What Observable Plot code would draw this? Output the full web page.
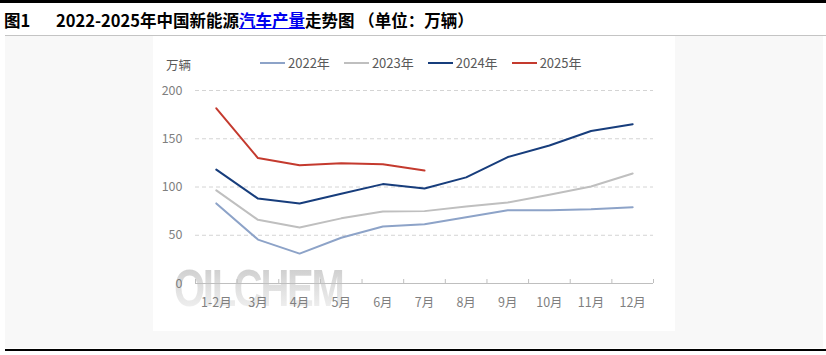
<!DOCTYPE html>
<html>
<head>
<meta charset="utf-8">
<script src="https://cdn.jsdelivr.net/npm/d3@7"></script>
<script src="https://cdn.jsdelivr.net/npm/@observablehq/plot@0.6"></script>
<style>
  html, body { margin: 0; padding: 0; background: #ffffff; }
  body { width: 826px; height: 355px; position: relative; overflow: hidden; font-family: "Noto Sans CJK SC", "Noto Sans", sans-serif; }
  .topbar { position: absolute; left: 0; top: 0; width: 826px; height: 3px; background: #000; }
  .title { position: absolute; top: 8px; font-size: 16.5px; font-weight: bold; color: #000; line-height: 24px; white-space: nowrap; }
  .title a { color: #0000ee; text-decoration: underline; }
  .sep { position: absolute; left: 5px; top: 35px; width: 821px; height: 1px; background: #c4c4c4; }
  .bg { position: absolute; left: 5px; top: 36px; width: 818px; height: 312px; background: #f8f8f8; }
  .bottombar { position: absolute; left: 5px; top: 349px; width: 821px; height: 2px; background: #000; }
  .panel { position: absolute; left: 153px; top: 36px; width: 522px; height: 295px; background: #fff; }
  .wm { position: absolute; left: 21px; top: 226px; font-family: "Liberation Sans", Arial, sans-serif; font-weight: bold; font-size: 52px; line-height: 52px; letter-spacing: -3px;
        transform: scaleX(0.77); transform-origin: 0 0;
        background: linear-gradient(180deg, #c9c9c9 0%, #dedede 45%, #f3f3f3 100%); -webkit-background-clip: text; background-clip: text; color: transparent; }
  #chart { position: absolute; left: 0; top: 0; }
  .unit { position: absolute; left: 13px; top: 20px; font-size: 12.5px; color: #595959; line-height: 18px; }
  .legend { position: absolute; left: 107px; top: 18px; display: flex; gap: 14px; font-size: 13px; color: #595959; line-height: 18px; }
  .legend .item { display: flex; align-items: center; }
  .legend .sw { width: 25px; height: 2px; margin-right: 3px; }
</style>
</head>
<body>
<div class="topbar"></div>
<div class="title" style="left:4px">图1</div>
<div class="title" style="left:56px">2022-2025年中国新能源<a>汽车产量</a>走势图 （单位：万辆）</div>
<div class="sep"></div>
<div class="bg"></div>
<div class="panel">
  <div class="wm">OILCHEM</div>
  <div id="chart"></div>
  <div class="unit">万辆</div>
  <div class="legend" id="legend"></div>
</div>
<div class="bottombar"></div>
<script>
const months = ["1-2月","3月","4月","5月","6月","7月","8月","9月","10月","11月","12月"];
const series = ["2022年","2023年","2024年","2025年"];
const colors = ["#8da3c8","#bfbfbf","#173d7c","#c43a2e"];
const v2022 = [83, 45.5, 31, 47.4, 59, 61.5, 68.7, 76, 76, 77, 79];
const v2023 = [96.5, 66, 58, 67.5, 74.5, 75, 79.8, 84, 92, 100.5, 114];
const v2024 = [118, 88, 83, 93, 103, 98.5, 110, 131, 143, 158, 165];
const v2025 = [181.5, 130, 122.5, 124.5, 123.5, 117];
const yTicks = [0, 50, 100, 150, 200];

const values = [v2022, v2023, v2024, v2025];
const data = [];
values.forEach((arr, s) => arr.forEach((v, i) => data.push({series: series[s], i, month: months[i], value: v})));
const idx = months.map((m, i) => i);
const bounds = d3.range(months.length + 1).map(i => i - 0.5);

const chart = Plot.plot({
  width: 522,
  height: 295,
  marginLeft: 42,
  marginRight: 22,
  marginTop: 54,
  marginBottom: 48,
  style: {background: "transparent", color: "#7f7f7f", fontSize: "12.5px", fontFamily: "'Noto Sans CJK SC', 'Noto Sans', sans-serif"},
  x: {type: "linear", domain: [-0.5, months.length - 0.5]},
  y: {domain: [0, 200]},
  color: {domain: series, range: colors},
  marks: [
    Plot.gridY(yTicks.filter(d => d > 0), {stroke: "#d4d4d4", strokeOpacity: 1, strokeDasharray: "4,3"}),
    Plot.ruleY([0], {stroke: "#bfbfbf", strokeWidth: 1}),
    Plot.axisX(bounds, {tickSize: -4, stroke: "#bfbfbf", tickFormat: () => "", label: null}),
    Plot.axisX(idx, {tickSize: 0, tickPadding: 15, tickFormat: i => months[i], label: null, fill: "#7f7f7f"}),
    Plot.axisY(yTicks, {tickSize: 0, tickPadding: 13, label: null, fill: "#7f7f7f"}),
    Plot.line(data, {x: "i", y: "value", z: "series", stroke: "series", strokeWidth: 2, strokeLinejoin: "round"})
  ]
});
document.getElementById("chart").appendChild(chart);

const legend = document.getElementById("legend");
series.forEach((s, k) => {
  const item = document.createElement("div");
  item.className = "item";
  const sw = document.createElement("span");
  sw.className = "sw";
  sw.style.background = colors[k];
  const t = document.createElement("span");
  t.textContent = s;
  item.appendChild(sw);
  item.appendChild(t);
  legend.appendChild(item);
});
</script>
</body>
</html>
